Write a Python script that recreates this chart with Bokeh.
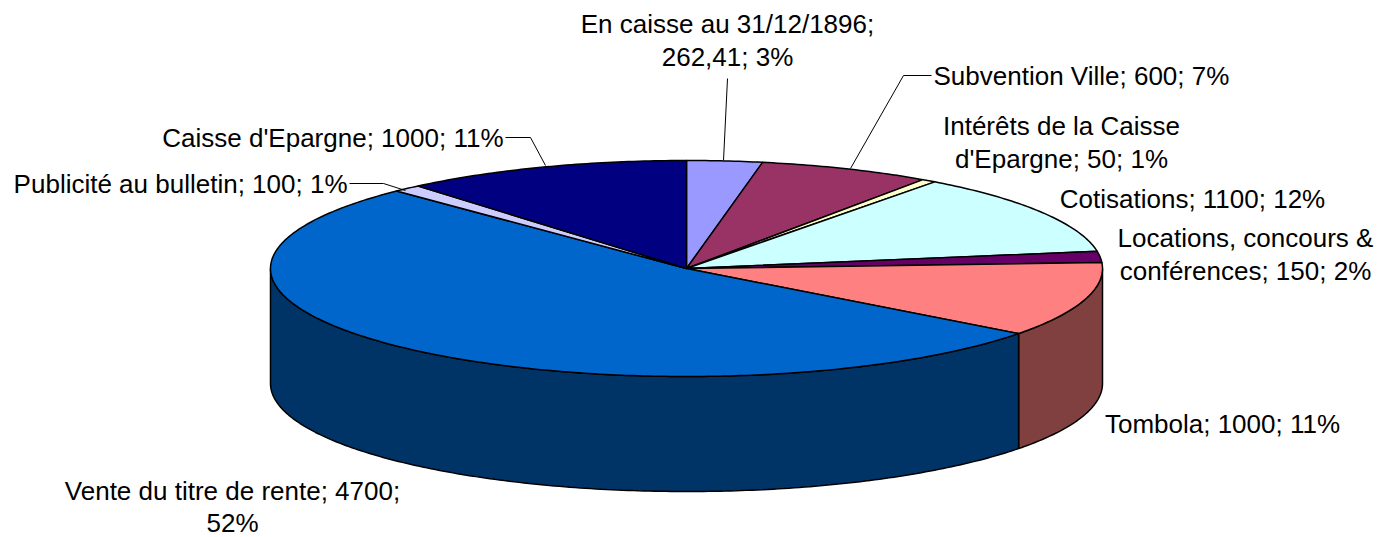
import numpy as np
from bokeh.plotting import figure
from bokeh.models import Range1d
from bokeh.core.properties import value
from bokeh.embed import file_html
from bokeh.resources import INLINE

# ---- data ----
categories = ["En caisse au 31/12/1896", "Subvention Ville", "Intérêts de la Caisse d'Epargne",
              "Cotisations", "Locations, concours & conférences", "Tombola",
              "Vente du titre de rente", "Publicité au bulletin", "Caisse d'Epargne"]
values = [262.41, 600, 50, 1100, 150, 1000, 4700, 100, 1000]
top_colors = ["#9999FF", "#993366", "#FFFFCC", "#CCFFFF", "#660066", "#FF8080",
              "#0066CC", "#CCCCFF", "#000080"]
side_colors = ["#4C4C80", "#4C1933", "#808066", "#668080", "#330033", "#804040",
               "#003366", "#666680", "#000040"]

# label lines (text, x, y, align)
label_text = ["En caisse au 31/12/1896;", "262,41; 3%",
              "Subvention Ville; 600; 7%",
              "Intérêts de la Caisse", "d'Epargne; 50; 1%",
              "Cotisations; 1100; 12%",
              "Locations, concours &", "conférences; 150; 2%",
              "Tombola; 1000; 11%",
              "Vente du titre de rente; 4700;", "52%",
              "Publicité au bulletin; 100; 1%",
              "Caisse d'Epargne; 1000; 11%"]
label_x = [727, 727, 933, 1061, 1061, 1192, 1245, 1245, 1222, 232, 232, 347, 503]
label_y = [23, 56, 75, 125, 158, 198, 237, 270, 423, 490, 522, 183, 137]
label_align = ["center", "center", "left", "center", "center", "center", "center",
               "center", "center", "center", "center", "right", "right"]

# leader lines
leader_xs = [[727, 723], [931, 903, 850], [505, 530, 545], [349, 383, 405]]
leader_ys = [[78, 160], [75, 75, 168], [137, 137, 165], [183, 183, 190]]

# ---- geometry ----
W, H = 1380, 536
cx, cy, rx, ry, depth = 686, 268, 416, 108, 115

p = figure(width=W, height=H, x_range=Range1d(0, W), y_range=Range1d(H, 0),
           output_backend="svg", toolbar_location=None, min_border=0,
           x_axis_type=None, y_axis_type=None)
p.outline_line_color = None
p.background_fill_color = "white"
p.border_fill_color = "white"

total = float(sum(values))
cum = np.concatenate([[0.0], np.cumsum(values)]) / total * 360.0


def arc(a, b, dy=0.0, n=120):
    t = np.radians(np.linspace(a, b, max(3, int(n * (b - a) / 90) + 3)))
    return cx + rx * np.sin(t), cy - ry * np.cos(t) + dy


# walls (front half)
wx, wy, wc = [], [], []
for i in range(len(values)):
    a, b = max(cum[i], 90.0), min(cum[i + 1], 270.0)
    if a < b:
        tx, ty = arc(a, b)
        bx, by = arc(a, b, depth)
        wx.append(list(tx) + list(bx[::-1]))
        wy.append(list(ty) + list(by[::-1]))
        wc.append(side_colors[i])
p.patches(wx, wy, fill_color=wc, line_color="black", line_width=1.5)

# tops
tx_all, ty_all = [], []
for i in range(len(values)):
    ax, ay = arc(cum[i], cum[i + 1])
    tx_all.append([cx] + list(ax))
    ty_all.append([cy] + list(ay))
p.patches(tx_all, ty_all, fill_color=top_colors, line_color="black", line_width=1.5,
          line_join="round")

p.multi_line(leader_xs, leader_ys, line_color="black", line_width=1)

for al in ["center", "left", "right"]:
    idx = [i for i, a in enumerate(label_align) if a == al]
    if not idx:
        continue
    p.text(x=[label_x[i] for i in idx], y=[label_y[i] for i in idx],
           text=[label_text[i] for i in idx], text_align=al, text_baseline="middle",
           text_font=value("Liberation Sans"), text_font_size="26px", text_color="black")

open("out.html", "w").write(file_html(p, INLINE))
